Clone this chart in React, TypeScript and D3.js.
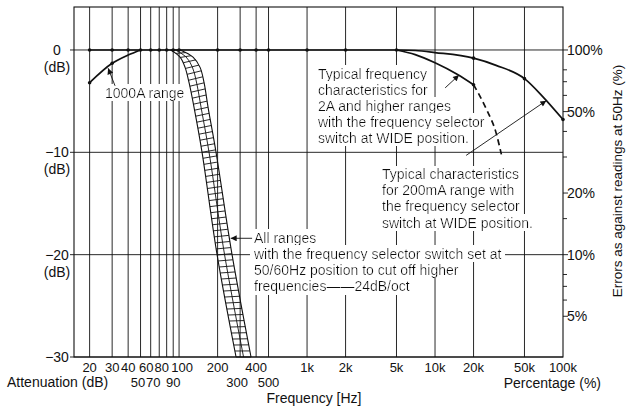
import { useLayoutEffect, useRef, useState } from 'react';
import * as d3 from 'd3';

// vertical grid (Hz)
const gridFreqs = [20, 30, 40, 50, 60, 70, 80, 90, 100, 200, 300, 400, 500, 1000, 2000, 5000, 10000, 20000, 50000];
// tick labels, upper and lower rows
const row1Freqs = [20, 30, 40, 60, 80, 100, 200, 400, 1000, 2000, 5000, 10000, 20000, 50000, 100000];
const row1Labels = ['20', '30', '40', '60', '80', '100', '200', '400', '1k', '2k', '5k', '10k', '20k', '50k', '100k'];
const row2Freqs = [50, 70, 90, 300, 500];
const row2Labels = ['50', '70', '90', '300', '500'];
// attenuation axis (dB)
const dbTicks = [0, -10, -20, -30];
const dbLabels = ['0', '\u221210', '\u221220', '\u221230'];
// error axis (%)
const pctMajor = [100, 50, 20, 10, 5];
const pctMinor = [80, 70, 60, 40, 30, 15, 8, 7, 6];

// flat response, 20 Hz .. 5 kHz
const flatFreq = [20, 30, 40, 50, 60, 70, 80, 90, 100, 200, 300, 400, 500, 1000, 2000, 5000];
const flatDb = [0, 0, 0, 0, 0, 0, 0, 0, 0, 0, 0, 0, 0, 0, 0, 0];
// 1000A range, low end
const r1000Freq = [20, 30, 40, 50];
const r1000Db = [-3.2, -1.3, -0.5, 0];
// 2A and higher ranges, WIDE
const r2AFreq = [5000, 7000, 10000, 15000, 20000];
const r2ADb = [0, -0.45, -1.25, -2.4, -3.4];
const r2ATailFreq = [20000, 25000, 30000, 33000];
const r2ATailDb = [-3.4, -5.7, -8.1, -10.2];
// 200mA range, WIDE
const r200Freq = [5000, 7000, 10000, 20000, 30000, 50000, 70000, 100000];
const r200Db = [0, -0.05, -0.25, -0.8, -1.5, -2.8, -4.6, -6.8];
// 50/60Hz filter band (24dB/oct)
const bandLeftFreq = [86, 101.8, 111.4, 119.7, 130.9, 151.2, 198.1, 278.8];
const bandRightFreq = [102, 128.6, 145.9, 156.8, 168.5, 194.5, 259.4, 365];
const bandDb = [0, -0.7, -1.7, -3.2, -5.6, -10, -20, -30];

const FONT = "'Liberation Sans', Arial, Helvetica, sans-serif";
// crowded low-frequency labels are set a little off their gridlines, as printed
const nudge: Record<string, number> = { '60': -4.5, '80': -5, '100': 3, '50': -2.5, '70': -6, '300': -3 };

type Sc = (v: number) => number;

function Band({ x, y }: { x: Sc; y: Sc }) {
  const leftRef = useRef<SVGPathElement | null>(null);
  const rightRef = useRef<SVGPathElement | null>(null);
  const [hatch, setHatch] = useState<{ rungs: number[][]; mid: [number, number][] } | null>(null);

  const edge = d3
    .line<[number, number]>()
    .x((d) => x(d[0]))
    .y((d) => y(d[1]))
    .curve(d3.curveCatmullRom.alpha(0.5));
  const leftD = edge(bandLeftFreq.map((f, i) => [f, bandDb[i]] as [number, number])) ?? '';
  const rightD = edge(bandRightFreq.map((f, i) => [f, bandDb[i]] as [number, number])) ?? '';

  useLayoutEffect(() => {
    const l = leftRef.current;
    const r = rightRef.current;
    if (!l || !r) return;
    const ll = l.getTotalLength();
    const rl = r.getTotalLength();
    const n = Math.round((ll + rl) / 2 / 6.2);
    const rungs: number[][] = [];
    const mid: [number, number][] = [];
    for (let i = 0; i <= n; i++) {
      const a = l.getPointAtLength((i / n) * ll);
      const b = r.getPointAtLength((i / n) * rl);
      rungs.push([a.x, a.y, b.x, b.y]);
      mid.push([(a.x + b.x) / 2, (a.y + b.y) / 2]);
    }
    setHatch({ rungs, mid });
  }, [leftD, rightD]);

  return (
    <g fill="none" stroke="#111" strokeWidth={0.9}>
      <path ref={leftRef} d={leftD} strokeWidth={1.1} />
      <path ref={rightRef} d={rightD} strokeWidth={1.1} />
      {hatch && (
        <>
          <path d={d3.line()(hatch.mid) ?? undefined} />
          {hatch.rungs.map((r, i) => (
            <line key={i} x1={r[0]} y1={r[1]} x2={r[2]} y2={r[3]} />
          ))}
        </>
      )}
    </g>
  );
}

function Note({ x, y, lines, step }: { x: number; y: number; lines: string[]; step: number }) {
  return (
    <g fontSize={14} fontFamily={FONT} fill="#111">
      {lines.map((s, i) => (
        <text key={i} x={x} y={y + i * step} filter="url(#txtbg)">
          {s}
        </text>
      ))}
    </g>
  );
}

export default function App() {
  const L = 74, R = 563, T = 7, B = 357;
  const x = d3.scaleLog().domain([15.1, 100000]).range([L, R]);
  const y = d3.scaleLinear().domain([-30, 4.2]).range([B, T]);
  const pct = d3
    .scaleLog()
    .domain([100 * Math.pow(10, -30 / 20), 100 * Math.pow(10, 4.2 / 20)])
    .range([B, T]);

  const line = d3
    .line<[number, number]>()
    .x((d) => x(d[0]))
    .y((d) => y(d[1]))
    .curve(d3.curveMonotoneX);
  const pts = (f: number[], v: number[]) => f.map((ff, i) => [ff, v[i]] as [number, number]);

  const dots: [number, number][] = [
    ...pts(flatFreq, flatDb),
    ...pts(r1000Freq.slice(0, 2), r1000Db.slice(0, 2)),
    [r2AFreq[4], r2ADb[4]],
    [r200Freq[3], r200Db[3]],
    [r200Freq[5], r200Db[5]],
    [r200Freq[7], r200Db[7]],
  ];

  // arrows: [tailFreq, tailDb, tipFreq, tipDb]
  const arrows: [number, number, number, number][] = [
    [31.6, -3.5, 27.9, -1.78],
    [12000, -3.7, 15400, -2.45],
    [17500, -10.3, 74000, -4.95],
    [372, -18.4, 253, -18.4],
  ];

  return (
    <svg
      width={628}
      height={406}
      style={{ position: 'absolute', left: 0, top: 0, background: '#fff' }}
      fontFamily={FONT}
    >
      <defs>
        <filter id="txtbg" x="-0.01" y="0" width="1.02" height="1">
          <feFlood floodColor="#fff" />
          <feComposite in="SourceGraphic" operator="over" />
        </filter>
        <marker id="ah" viewBox="0 0 10 10" refX={10} refY={5} markerWidth={7} markerHeight={6} markerUnits="userSpaceOnUse" orient="auto">
          <path d="M0,0 L10,5 L0,10 z" fill="#111" />
        </marker>
      </defs>

      {/* grid */}
      <g stroke="#111" strokeWidth={0.9}>
        {gridFreqs.map((f) => (
          <line key={f} x1={x(f)} x2={x(f)} y1={T} y2={B} />
        ))}
        {dbTicks.map((v) => (
          <line key={v} x1={L - 4} x2={R} y1={y(v)} y2={y(v)} />
        ))}
        <rect x={L} y={T} width={R - L} height={B - T} fill="none" strokeWidth={1.1} />
        {pctMajor.map((p) => (
          <line key={p} x1={R} x2={R + 5} y1={pct(p)} y2={pct(p)} />
        ))}
        {pctMinor.map((p) => (
          <line key={p} x1={R} x2={R + 4} y1={pct(p)} y2={pct(p)} />
        ))}
      </g>

      {/* annotations */}
      <Note x={105} y={97.5} lines={['1000A range']} step={16} />
      <Note
        x={318}
        y={78.5}
        step={16}
        lines={[
          'Typical frequency',
          'characteristics for',
          '2A and higher ranges',
          'with the frequency selector',
          'switch at WIDE position.',
        ]}
      />
      <Note
        x={382}
        y={179}
        step={16.2}
        lines={['Typical characteristics', 'for 200mA range with', 'the frequency selector', 'switch at WIDE position.']}
      />
      <Note
        x={254}
        y={242.5}
        step={16.2}
        lines={[
          'All ranges',
          'with the frequency selector switch set at',
          '50/60Hz position to cut off higher',
          'frequencies\u2014\u201424dB/oct',
        ]}
      />

      <Band x={x} y={y} />

      {/* response curves */}
      <g fill="none" stroke="#111" strokeWidth={1.7}>
        <path d={line(pts(flatFreq, flatDb)) ?? undefined} />
        <path d={line(pts(r1000Freq, r1000Db)) ?? undefined} />
        <path d={line(pts(r2AFreq, r2ADb)) ?? undefined} />
        <path d={line(pts(r2ATailFreq, r2ATailDb)) ?? undefined} strokeDasharray="6 4" />
        <path d={line(pts(r200Freq, r200Db)) ?? undefined} />
      </g>
      <g fill="#111">
        {dots.map((d, i) => (
          <circle key={i} cx={x(d[0])} cy={y(d[1])} r={1.8} />
        ))}
      </g>

      {/* arrows */}
      <g stroke="#111" strokeWidth={0.9}>
        {arrows.map((a, i) => (
          <line key={i} x1={x(a[0])} y1={y(a[1])} x2={x(a[2])} y2={y(a[3])} markerEnd="url(#ah)" />
        ))}
      </g>

      {/* left axis labels */}
      <g fontSize={14} fill="#111" textAnchor="middle">
        {dbTicks.map((v, i) => (
          <g key={v}>
            <text x={57} y={y(v) + 5}>
              {dbLabels[i]}
            </text>
            {v > -30 && (
              <text x={57} y={y(v) + 22}>
                (dB)
              </text>
            )}
          </g>
        ))}
      </g>

      {/* right axis labels */}
      <g fontSize={14} fill="#111">
        {pctMajor.map((p) => (
          <text key={p} x={567} y={pct(p) + 5}>
            {`${p}%`}
          </text>
        ))}
        <text transform="translate(622,181) rotate(-90)" textAnchor="middle" fontSize={13.5}>
          Errors as against readings at 50Hz (%)
        </text>
      </g>

      {/* frequency labels */}
      <g fontSize={13} fill="#111" textAnchor="middle">
        {row1Freqs.map((f, i) => (
          <text key={f} x={x(f) + (nudge[row1Labels[i]] ?? 0)} y={372}>
            {row1Labels[i]}
          </text>
        ))}
        {row2Freqs.map((f, i) => (
          <text key={f} x={x(f) + (nudge[row2Labels[i]] ?? 0)} y={387}>
            {row2Labels[i]}
          </text>
        ))}
      </g>
      <g fontSize={14} fill="#111">
        <text x={7} y={387}>
          Attenuation (dB)
        </text>
        <text x={601} y={388} textAnchor="end">
          Percentage (%)
        </text>
        <text x={314} y={403} textAnchor="middle">
          Frequency [Hz]
        </text>
      </g>
    </svg>
  );
}
